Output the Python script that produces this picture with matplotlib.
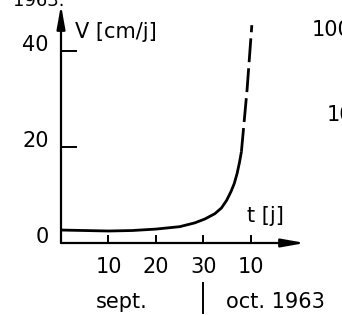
import matplotlib
matplotlib.use('Agg')
import matplotlib.pyplot as plt
import numpy as np

plt.rcParams['font.family'] = ['DejaVu Sans']

# vitesse V [cm/j] en fonction du temps t [j] (sept.-oct. 1963)
t_solid = [0, 10, 15, 20, 25, 28.2, 30.3, 32.4, 33.8, 34.9, 35.8, 36.5, 37.1, 37.6, 38.0]
v_solid = [2.7, 2.5, 2.6, 2.9, 3.4, 4.2, 5.0, 6.1, 7.3, 8.9, 10.7, 12.4, 14.5, 16.8, 19.0]
t_dash = [38.0, 39.2, 40.2]
v_dash = [19.0, 32.0, 45.4]

xticks = [10, 20, 30, 40]
xticklabels = ['10', '20', '30', '10']
yticks = [0, 20, 40]
yticklabels = ['0', '20', '40']

W, H = 342, 316
fig = plt.figure(figsize=(W / 100, H / 100), dpi=100)
ax = fig.add_axes([61 / W, (H - 243) / H, (305 - 61) / W, (243 - 5) / H])

ax.plot(t_solid, v_solid, color='black', linewidth=2, solid_joinstyle='round',
        solid_capstyle='butt')
ax.plot(t_dash, v_dash, color='black', linewidth=2, dashes=(8.6, 2.2))

ax.set_xlim(0, 51.4)
ax.set_ylim(0, 49.6)

for s in ax.spines.values():
    s.set_visible(False)

# axes avec fleches
ax.annotate('', xy=(1, 0), xytext=(0, 0), xycoords='axes fraction',
            arrowprops=dict(arrowstyle='-|>,head_length=1.4,head_width=0.25',
                            color='black', lw=1.6, shrinkA=0, shrinkB=0))
ax.annotate('', xy=(0, 1), xytext=(0, 0), xycoords='axes fraction',
            arrowprops=dict(arrowstyle='-|>,head_length=1.4,head_width=0.25',
                            color='black', lw=1.6, shrinkA=0, shrinkB=0))

ax.set_xticks(xticks, xticklabels)
ax.set_yticks(yticks, yticklabels)
ax.tick_params(axis='x', direction='in', length=5.5, width=1.4, pad=10, labelsize=15)
ax.tick_params(axis='y', direction='in', length=11.5, width=1.4, pad=9, labelsize=15)
for lab in ax.get_yticklabels():
    lab.set_va('baseline')

ax.text(2.9, 44, 'V [cm/j]', fontsize=15, va='center', ha='left')
ax.text(39.2, 5.6, 't [j]', fontsize=15, va='center', ha='left')
ax.text(12.8, -12.2, 'sept.', fontsize=15, va='center', ha='center')
ax.text(34.7, -12.2, 'oct. 1963', fontsize=15, va='center', ha='left')
ax.plot([30, 30], [-8.3, -14.6], color='black', linewidth=1.4, clip_on=False)

# restes des figures voisines, coupes au bord (comme sur l'original)
fig.text(13 / W, 1 - 6 / H, '1963.', fontsize=13, va='baseline', ha='left')
fig.text(312 / W, 1 - 30 / H, '100', fontsize=15, va='center', ha='left')
fig.text(327 / W, 1 - 115 / H, '10', fontsize=15, va='center', ha='left')

fig.savefig('out.png', dpi=100)
